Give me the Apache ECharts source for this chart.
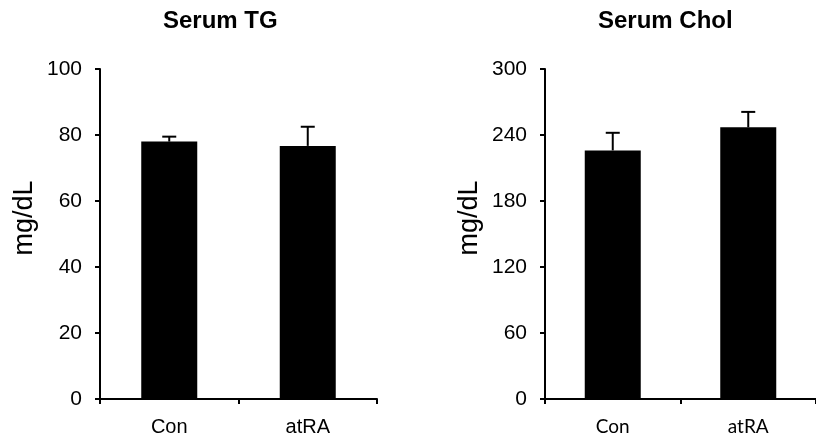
<!DOCTYPE html>
<html>
<head>
<meta charset="utf-8">
<script src="https://cdn.jsdelivr.net/npm/echarts@6/dist/echarts.min.js"></script>
<style>
  html, body { margin: 0; padding: 0; background: #fff; }
  #main { width: 816px; height: 440px; }
</style>
</head>
<body>
<div id="main"></div>
<script>
    // data
    var groups = ['Con', 'atRA'];
    var tgMean = [78, 76.7];
    var tgErr = [1.5, 5.8];
    var cholMean = [226, 247];
    var cholErr = [16, 14];

    var font = '"Liberation Sans", Arial, sans-serif';

    function errData(mean, err) {
        var out = [];
        for (var i = 0; i < mean.length; i++) {
            out.push([i, mean[i], mean[i] + err[i]]);
        }
        return out;
    }

    function renderErr(params, api) {
        var base = api.coord([api.value(0), api.value(1)]);
        var top = api.coord([api.value(0), api.value(2)]);
        var half = 7;
        var style = { stroke: '#000', lineWidth: 2 };
        return {
            type: 'group',
            children: [
                { type: 'line', shape: { x1: base[0], y1: base[1], x2: top[0], y2: top[1] }, style: style },
                { type: 'line', shape: { x1: top[0] - half, y1: top[1], x2: top[0] + half, y2: top[1] }, style: style }
            ]
        };
    }

    function yAxis(idx, max, interval) {
        return {
            type: 'value',
            gridIndex: idx,
            min: 0,
            max: max,
            interval: interval,
            name: 'mg/dL',
            nameLocation: 'middle',
            nameGap: 62,
            nameTextStyle: { fontFamily: font, fontSize: 27, color: '#000', padding: [0, 0, 0, 32] },
            axisLine: { show: true, lineStyle: { color: '#000', width: 2 } },
            axisTick: { show: true, length: 5, lineStyle: { color: '#000', width: 2 } },
            splitLine: { show: false },
            axisLabel: { fontFamily: font, fontSize: 21, color: '#000', margin: 18 }
        };
    }

    function xAxis(idx, labelFont, labelSize) {
        return {
            type: 'category',
            gridIndex: idx,
            data: groups,
            axisLine: { lineStyle: { color: '#000', width: 2 } },
            axisTick: { show: true, length: 5, lineStyle: { color: '#000', width: 2 } },
            axisLabel: { fontFamily: labelFont, fontSize: labelSize, color: '#000', margin: 18 }
        };
    }

    var chart = echarts.init(document.getElementById('main'));
    var option = {
        animation: false,
        backgroundColor: '#fff',
        title: [
            { text: 'Serum TG', left: 158, top: 4, textStyle: { fontFamily: font, fontSize: 24, fontWeight: 'bold', color: '#000' } },
            { text: 'Serum Chol', left: 593, top: 4, textStyle: { fontFamily: font, fontSize: 24, fontWeight: 'bold', color: '#000' } }
        ],
        grid: [
            { left: 100, top: 69, width: 277, height: 330 },
            { left: 545, top: 69, width: 278, height: 330 }
        ],
        xAxis: [
            xAxis(0, font, 20),
            xAxis(1, 'Lato, "Open Sans", sans-serif', 19)
        ],
        yAxis: [
            yAxis(0, 100, 20),
            yAxis(1, 300, 60)
        ],
        series: [
            { type: 'bar', xAxisIndex: 0, yAxisIndex: 0, data: tgMean, barWidth: 56, itemStyle: { color: '#000' } },
            { type: 'custom', xAxisIndex: 0, yAxisIndex: 0, data: errData(tgMean, tgErr), renderItem: renderErr, z: 3 },
            { type: 'bar', xAxisIndex: 1, yAxisIndex: 1, data: cholMean, barWidth: 56, itemStyle: { color: '#000' } },
            { type: 'custom', xAxisIndex: 1, yAxisIndex: 1, data: errData(cholMean, cholErr), renderItem: renderErr, z: 3 }
        ]
    };
    chart.setOption(option);
</script>
</body>
</html>
